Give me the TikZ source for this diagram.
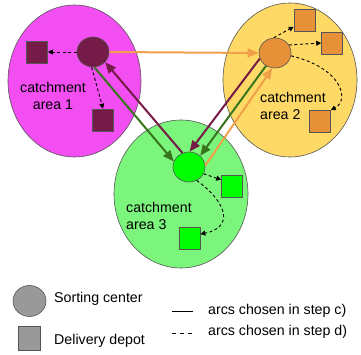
\documentclass[tikz,border=0pt]{standalone}
\usepackage{fontspec}
\setmainfont{Liberation Sans}
\usetikzlibrary{shapes.geometric,arrows.meta}
\definecolor{cmag}{HTML}{F24EF2}
\definecolor{cyel}{HTML}{FFD966}
\definecolor{cgrn}{HTML}{7CF57C}
\definecolor{cpur}{HTML}{741B47}
\definecolor{cora}{HTML}{E69138}
\definecolor{clime}{HTML}{00FF00}
\definecolor{cdgrn}{HTML}{38761D}
\definecolor{carr}{HTML}{F0A048}
\definecolor{cgray}{HTML}{999999}
\definecolor{cedge}{HTML}{555555}
\tikzset{
  area/.style={ellipse, draw=cedge, line width=0.6pt, inner sep=0pt},
  center/.style={ellipse, draw=cedge, line width=0.6pt, inner sep=0pt, minimum width=32pt, minimum height=30pt},
  depot/.style={rectangle, draw=cedge, line width=0.6pt, inner sep=0pt, minimum width=21pt, minimum height=22pt},
  lbl/.style={inner sep=0pt, font=\fontsize{14.2}{17}\selectfont},
  arc/.style={line width=2pt, -{Triangle[length=11pt,width=9pt]}},
  darc/.style={line width=0.9pt, dash pattern=on 3pt off 2.5pt, -{Triangle[length=5pt,width=5pt]}},
}
\begin{document}
\begin{tikzpicture}[x=1pt,y=-1pt]
\useasboundingbox (0,0) rectangle (361,355);
% catchment areas
\node[area, fill=cmag, minimum width=133pt, minimum height=152pt] (ca1) at (74.5,81) {};
\node[area, fill=cyel, minimum width=134pt, minimum height=154pt] (ca2) at (290,80) {};
\node[area, fill=cgrn, minimum width=134pt, minimum height=148pt] (ca3) at (181,194) {};
\node[lbl, align=center] (t1) at (53,96) {catchment\\area 1};
\node[lbl, align=left, anchor=west] (t2) at (260,106) {catchment\\area 2};
\node[lbl, align=left, anchor=west] (t3) at (126,216) {catchment\\area 3};
% sorting centers
\node[center, fill=cpur] (sc1) at (93,52) {};
\node[center, fill=cora] (sc2) at (275,53) {};
\node[center, fill=clime] (sc3) at (189,167) {};
% depots
\node[depot, fill=cpur] (d1a) at (37,52) {};
\node[depot, fill=cpur] (d1b) at (103,120) {};
\node[depot, fill=cora] (d2a) at (304.5,20.5) {};
\node[depot, fill=cora] (d2b) at (332,43) {};
\node[depot, fill=cora] (d2c) at (320,121) {};
\node[depot, fill=clime] (d3a) at (232,186) {};
\node[depot, fill=clime] (d3b) at (189.5,238) {};
% arcs step c
\draw[arc, carr] (sc1.east) -- (sc2.west);
\draw[arc, cpur] (sc3.115) -- (sc1.-40);
\draw[arc, cdgrn] (sc1.-85) -- (sc3.160);
\draw[arc, cpur] (sc2.200) -- (sc3.88);
\draw[arc, cdgrn] (sc2.235) -- (sc3.45);
\draw[arc, carr] (sc3.5) -- (sc2.-100);
% arcs step d
\draw[darc] (sc1.west) -- (d1a.east);
\draw[darc] (sc1.-95) -- (d1b.north);
\draw[darc] (sc2.95) -- (d2a.-150);
\draw[darc] (sc2.30) -- (d2b.west);
\draw[darc] (sc2.-10) .. controls (342,68) and (350,100) .. (d2c.45);
\draw[darc] (sc3.-25) -- (d3a.150);
\draw[darc] (sc3.-60) .. controls (230,205) and (232,228) .. (d3b.20);
% legend
\node[center, fill=cgray, minimum width=33pt, minimum height=31pt] (lsc) at (29.5,301) {};
\node[depot, fill=cgray, minimum width=22pt, minimum height=24pt] (ldp) at (29,338) {};
\node[lbl, anchor=west] (lt1) at (54,299) {Sorting center};
\node[lbl, anchor=west] (lt2) at (54,341) {Delivery depot};
\node[lbl, anchor=west] (lt3) at (208,311) {arcs chosen in step c)};
\node[lbl, anchor=west] (lt4) at (208,332) {arcs chosen in step d)};
\coordinate (la1) at (172,311);
\coordinate (la2) at (193,311);
\coordinate (lb1) at (172,333);
\coordinate (lb2) at (193,333);
\draw[line width=0.9pt] (la1) -- (la2);
\draw[line width=0.9pt, dash pattern=on 4pt off 4pt] (lb1) -- (lb2);
\end{tikzpicture}
\end{document}
